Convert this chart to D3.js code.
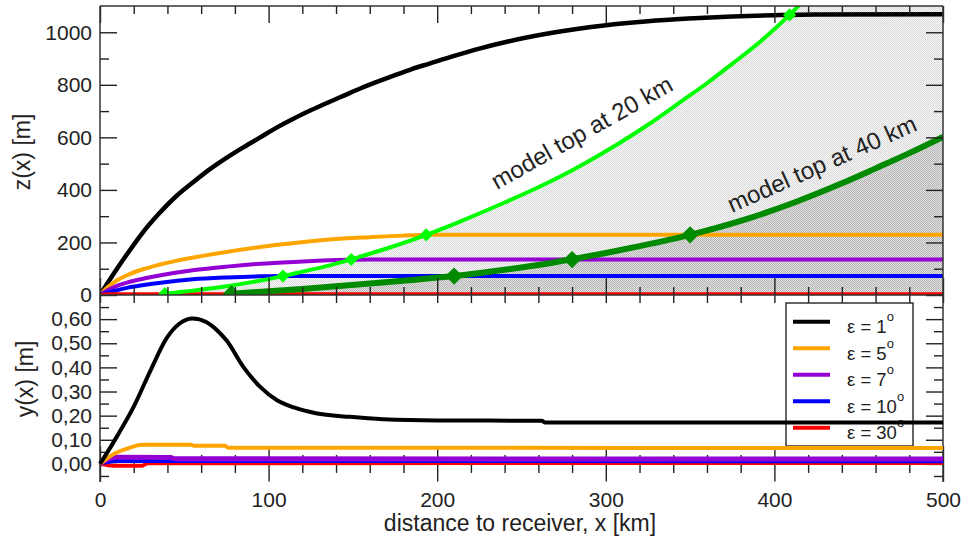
<!DOCTYPE html>
<html>
<head>
<meta charset="utf-8">
<script src="https://cdn.jsdelivr.net/npm/d3@7"></script>
<style>
  body { margin: 0; background: #fff; }
  svg { display: block; }
  text { font-family: 'Liberation Sans', Arial, Helvetica, sans-serif; fill: #222; }
</style>
</head>
<body>
<div id="chart"></div>
<script>
// ---- data ----
// top panel: ray height z(x) [m], pairs of [distance km, height m]
const zEps1  = [[0,0],[8,80],[16,155],[25,235],[35,310],[45,375],[55,428],[65,478],[75,522],[85,562],[95,600],[105,638],[115,672],[125,703],[135,732],[145,760],[155,788],[165,813],[175,837],[185,860],[195,880],[210,910],[225,938],[242,965],[270,1000],[299,1026],[325,1042],[349,1052],[375,1060],[400,1065],[424,1068],[500,1069]];
const zEps5  = [[0,0],[5,32],[10,55],[16,75],[25,97],[35,115],[45,130],[60,148],[75,164],[95,183],[118,200],[136,211],[160,220],[180,226],[200,229],[500,229]];
const zEps7  = [[0,0],[5,20],[10,35],[16,47],[25,61],[36,75],[55,94],[75,108],[95,119],[118,127],[140,133],[160,135],[500,135]];
const zEps10 = [[0,0],[5,10],[10,18],[16,27],[25,37],[36,47],[55,60],[75,67],[95,71],[115,72],[500,72]];
const zEps30 = [[0,0],[5,3],[500,3]];
const zTop20 = [[38.5,5],[56,17],[75,33],[90,49],[108.5,72],[120,89],[135,111],[149,136],[170,177],[193.5,229],[211,273],[240,352],[260,410],[281,478],[306,570],[325,648],[345,738],[360,806],[375,880],[392.6,970],[409,1066],[418,1125]];
const zTop40 = [[78,5],[100,14],[120,23],[140,33],[160,44],[185,57],[210,72],[240,96],[260,114],[280,136],[300,160],[320,186],[350,229],[380,282],[413,355],[440,425],[460,482],[480,540],[500,602]];
const mark20 = [[38.5,5],[108.5,72],[149,135],[193.5,229],[409,1066]];
const mark40 = [[78,5],[210,72],[280,135],[350,229]];

// bottom panel: lateral offset y(x) [m]
const yEps1  = [[0,0],[5,0.055],[10,0.113],[20,0.237],[30,0.388],[40,0.526],[47,0.581],[55,0.603],[63,0.588],[70,0.55],[75,0.512],[85,0.402],[95,0.319],[105,0.264],[115,0.234],[128,0.21],[148,0.195],[168,0.185],[200,0.18],[262,0.179],[264,0.172],[500,0.172]];
const yEps5  = [[0,0],[9,0.044],[17,0.065],[25,0.079],[54,0.079],[56,0.075],[74,0.075],[76,0.067],[500,0.066]];
const yEps7  = [[0,0],[9,0.028],[42,0.027],[44,0.021],[500,0.02]];
const yEps10 = [[0,0],[9,0.012],[500,0.011]];
const yEps30 = [[0,0],[8,-0.008],[25,-0.008],[28,0.003],[500,0.004]];

const legendLabels = ["1", "5", "7", "10", "30"];
const seriesColors = ["#000000", "#ffa500", "#9400d3", "#0000ff", "#ff0000"];

const xMajor = [0, 100, 200, 300, 400, 500];
const xMinor = d3.range(20, 500, 20).filter(v => v % 100 !== 0);
const zMajor = [0, 200, 400, 600, 800, 1000];
const zMinor = [100, 300, 500, 700, 900];
const yMajor = [0, 0.1, 0.2, 0.3, 0.4, 0.5, 0.6];
const yMajorLabels = ["0,00", "0,10", "0,20", "0,30", "0,40", "0,50", "0,60"];
const yMinor = [-0.05, 0.05, 0.15, 0.25, 0.35, 0.45, 0.55, 0.65];

// ---- layout ----
const width = 965, height = 543;
const left = 100, right = 943;
const topY = 6, midY = 295, botY = 482;

const svg = d3.select("#chart").append("svg")
  .attr("width", width)
  .attr("height", height);

const x = d3.scaleLinear().domain([0, 500]).range([left, right]);
const zScale = d3.scaleLinear().domain([0, 1100]).range([midY, topY]);
const yScale = d3.scaleLinear().domain([-0.075, 0.70]).range([botY, midY]);

const defs = svg.append("defs");
function dots(id, base, dot) {
  const p = defs.append("pattern").attr("id", id)
    .attr("width", 2).attr("height", 2).attr("patternUnits", "userSpaceOnUse");
  p.append("rect").attr("width", 2).attr("height", 2).attr("fill", base);
  p.append("rect").attr("width", 1).attr("height", 1).attr("fill", dot);
  p.append("rect").attr("x", 1).attr("y", 1).attr("width", 1).attr("height", 1).attr("fill", dot);
}
dots("lightDots", "#f8f8f8", "#d8d8d8");
dots("darkDots", "#e2e2e2", "#b4b4b4");

defs.append("clipPath").attr("id", "clipTop")
  .append("rect").attr("x", left).attr("y", topY)
  .attr("width", right - left).attr("height", midY - topY);

// ---- top panel fills ----
const topPanel = svg.append("g").attr("clip-path", "url(#clipTop)");
const zArea = d3.area().x(d => x(d[0])).y0(zScale(0)).y1(d => zScale(d[1])).curve(d3.curveMonotoneX);
const fill20 = zTop20.concat([[500, zTop20[zTop20.length - 1][1]]]);
topPanel.append("path").datum(fill20).attr("d", zArea).attr("fill", "url(#lightDots)");
topPanel.append("path").datum(zTop40).attr("d", zArea).attr("fill", "url(#darkDots)");

// ---- axes ----
function ticks(gen, scale, values, size, tx, ty, labels, pad) {
  const a = gen(scale).tickValues(values).tickSizeInner(size).tickSizeOuter(0)
    .tickPadding(pad || 0)
    .tickFormat(labels ? (d, i) => labels[i] : () => "");
  const g = svg.append("g").attr("transform", "translate(" + tx + "," + ty + ")").call(a);
  g.select(".domain").remove();
  g.selectAll("line").attr("stroke", "#222").attr("stroke-width", 1.4);
  g.selectAll("text").attr("font-size", 21).attr("fill", "#222");
  g.attr("font-family", null).attr("font-size", null);
  return g;
}

// top panel
ticks(d3.axisLeft, zScale, zMajor, -17, left, 0, zMajor.map(String), 8);
ticks(d3.axisLeft, zScale, zMinor, -9, left, 0);
ticks(d3.axisRight, zScale, zMajor, -17, right, 0);
ticks(d3.axisRight, zScale, zMinor, -9, right, 0);
ticks(d3.axisTop, x, xMajor, -17, 0, topY);
ticks(d3.axisTop, x, xMinor, -8, 0, topY);
ticks(d3.axisTop, x, xMajor, 17, 0, midY);
ticks(d3.axisTop, x, xMinor, 8, 0, midY);
ticks(d3.axisBottom, x, xMajor, 8, 0, midY);
ticks(d3.axisBottom, x, xMinor, 8, 0, midY);

// bottom panel
ticks(d3.axisLeft, yScale, yMajor, -17, left, 0, yMajorLabels, 8);
ticks(d3.axisLeft, yScale, yMinor, -9, left, 0);
ticks(d3.axisRight, yScale, yMajor, -17, right, 0);
ticks(d3.axisRight, yScale, yMinor, -9, right, 0);
ticks(d3.axisBottom, x, xMajor, 17.5, 0, yScale(0), xMajor.map(String), 11);
ticks(d3.axisBottom, x, xMinor, 9, 0, yScale(0));
ticks(d3.axisTop, x, xMajor, 17.5, 0, yScale(0));
ticks(d3.axisTop, x, xMinor, 9, 0, yScale(0));

// frame
const frame = svg.append("g").attr("stroke", "#333").attr("stroke-width", 1.5).attr("fill", "none");
frame.append("line").attr("x1", left).attr("x2", right).attr("y1", topY).attr("y2", topY);
frame.append("line").attr("x1", left).attr("x2", right).attr("y1", midY).attr("y2", midY);
frame.append("line").attr("x1", left).attr("x2", left).attr("y1", topY).attr("y2", botY);
frame.append("line").attr("x1", right).attr("x2", right).attr("y1", topY).attr("y2", botY);

// ---- top panel lines ----
const zLine = d3.line().x(d => x(d[0])).y(d => zScale(d[1])).curve(d3.curveMonotoneX);
const zSeries = [zEps1, zEps5, zEps7, zEps10, zEps30];
zSeries.forEach((s, i) => {
  topPanel.append("path").datum(s).attr("d", zLine)
    .attr("fill", "none").attr("stroke", seriesColors[i])
    .attr("stroke-width", i === 0 ? 4.5 : 4);
});
topPanel.append("path").datum(zTop20).attr("d", zLine)
  .attr("fill", "none").attr("stroke", "#00ff00").attr("stroke-width", 4);
topPanel.append("path").datum(zTop40).attr("d", zLine)
  .attr("fill", "none").attr("stroke", "#008a00").attr("stroke-width", 6);

topPanel.selectAll(".m20").data(mark20).enter().append("path")
  .attr("d", d3.symbol().type(d3.symbolDiamond2).size(110))
  .attr("transform", d => "translate(" + x(d[0]) + "," + zScale(d[1]) + ")")
  .attr("fill", "#00ff00");
topPanel.selectAll(".m40").data(mark40).enter().append("path")
  .attr("d", d3.symbol().type(d3.symbolDiamond2).size(190))
  .attr("transform", d => "translate(" + x(d[0]) + "," + zScale(d[1]) + ")")
  .attr("fill", "#008a00");

svg.append("text")
  .attr("transform", "translate(497,190) rotate(-29.5)")
  .attr("font-size", 24)
  .text("model top at 20 km");
svg.append("text")
  .attr("transform", "translate(732,213) rotate(-24)")
  .attr("font-size", 24)
  .text("model top at 40 km");

// ---- legend ----
const legend = svg.append("g");
legend.append("rect")
  .attr("x", 786).attr("y", 303).attr("width", 127).attr("height", 143)
  .attr("fill", "#fff").attr("stroke", "#333").attr("stroke-width", 1.5);
legendLabels.forEach((lab, i) => {
  const ly = 321.7 + i * 26.5;
  legend.append("line").attr("x1", 793).attr("x2", 830).attr("y1", ly).attr("y2", ly)
    .attr("stroke", seriesColors[i]).attr("stroke-width", 4);
  const t = legend.append("text").attr("x", 847).attr("y", ly + 11.5).attr("font-size", 18.5);
  t.append("tspan").text("\u03b5 = " + lab);
  t.append("tspan").attr("font-size", 13).attr("dy", -12).text("o");
});

// ---- bottom panel lines ----
const yLine = d3.line().x(d => x(d[0])).y(d => yScale(d[1])).curve(d3.curveMonotoneX);
const ySeries = [yEps1, yEps5, yEps7, yEps10, yEps30];
[4, 3, 2, 1, 0].forEach(i => {
  svg.append("path").datum(ySeries[i]).attr("d", yLine)
    .attr("fill", "none").attr("stroke", seriesColors[i])
    .attr("stroke-width", i === 2 ? 5 : 4);
});

// ---- axis titles ----
svg.append("text")
  .attr("transform", "translate(30,152) rotate(-90)")
  .attr("text-anchor", "middle").attr("font-size", 23)
  .text("z(x) [m]");
svg.append("text")
  .attr("transform", "translate(33,379) rotate(-90)")
  .attr("text-anchor", "middle").attr("font-size", 23)
  .text("y(x) [m]");
svg.append("text")
  .attr("x", 520).attr("y", 531)
  .attr("text-anchor", "middle").attr("font-size", 23)
  .text("distance to receiver, x [km]");
</script>
</body>
</html>
